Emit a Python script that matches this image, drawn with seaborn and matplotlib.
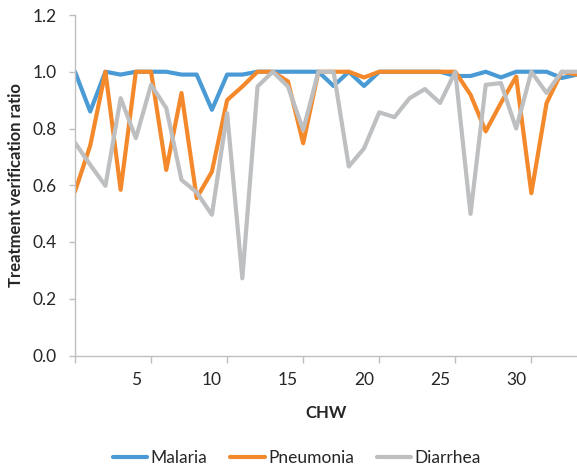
import matplotlib
matplotlib.use("Agg")
import pandas as pd
import matplotlib.pyplot as plt
import seaborn as sns

# --- Data ---
chw = list(range(1, 35))
malaria = [1.00, 0.86, 1.00, 0.99, 1.00, 1.00, 1.00, 0.99, 0.99, 0.866,
           0.99, 0.99, 1.00, 1.00, 1.00, 1.00, 1.00, 0.95, 1.00, 0.95,
           1.00, 1.00, 1.00, 1.00, 1.00, 0.985, 0.985, 1.00, 0.98, 1.00,
           1.00, 1.00, 0.978, 0.99]
pneumonia = [0.578, 0.74, 1.00, 0.584, 1.00, 1.00, 0.654, 0.925, 0.555, 0.648,
             0.90, 0.948, 1.00, 1.00, 0.966, 0.748, 1.00, 1.00, 1.00, 0.98,
             1.00, 1.00, 1.00, 1.00, 1.00, 1.00, 0.919, 0.79, 0.89, 0.983,
             0.572, 0.89, 1.00, 0.99]
diarrhea = [0.75, 0.672, 0.598, 0.907, 0.766, 0.954, 0.872, 0.619, 0.575, 0.496,
            0.854, 0.272, 0.948, 1.00, 0.948, 0.795, 1.00, 1.00, 0.666, 0.73,
            0.857, 0.84, 0.907, 0.939, 0.89, 1.00, 0.499, 0.954, 0.96, 0.80,
            1.00, 0.925, 1.00, 1.00]
series = ["Malaria", "Pneumonia", "Diarrhea"]
colors = {"Malaria": "#4A9BD5", "Pneumonia": "#F4892C", "Diarrhea": "#BDBFC1"}
y_ticks = [0.0, 0.2, 0.4, 0.6, 0.8, 1.0, 1.2]
x_labels = [5, 10, 15, 20, 25, 30]

df = pd.DataFrame({
    "CHW": chw * 3,
    "ratio": malaria + pneumonia + diarrhea,
    "disease": [s for s in series for _ in chw],
})

sns.set_style("white")
plt.rcParams["font.family"] = ["Lato", "DejaVu Sans"]

fig = plt.figure(figsize=(5.77, 4.67), dpi=100)
ax = fig.add_axes([75 / 577, 1 - 355.5 / 467, 1 - 75 / 577, 340.5 / 467])

sns.lineplot(data=df, x="CHW", y="ratio", hue="disease", hue_order=series,
             palette=colors, linewidth=3.0, ax=ax,
             solid_joinstyle="round", solid_capstyle="round")

ax.set_xlim(1, 34)
ax.set_ylim(0, 1.2)
ax.set_yticks(y_ticks)
ax.set_yticklabels([f"{v:.1f}" for v in y_ticks])
ax.set_xticks(x_labels)
ax.set_xticks(list(range(1, 34, 5)), minor=True)

spine_col = "#BFBFBF"
for side in ["top", "right"]:
    ax.spines[side].set_visible(False)
for side in ["left", "bottom"]:
    ax.spines[side].set_color(spine_col)
    ax.spines[side].set_linewidth(1.0)

ax.tick_params(axis="y", left=True, length=4, width=1, color=spine_col,
               pad=9, labelsize=12.5, labelcolor="#262626")
ax.tick_params(axis="x", which="major", bottom=True, length=0, pad=12,
               labelsize=12.5, labelcolor="#262626")
ax.tick_params(axis="x", which="minor", bottom=True, length=5, width=1,
               color=spine_col)

ax.set_xlabel("CHW", fontsize=12, fontweight="bold", labelpad=12, color="#262626")
ax.set_ylabel("Treatment verification ratio", fontsize=12, fontweight="bold",
              labelpad=6, color="#262626")
ax.grid(False)

sns.move_legend(ax, "center", bbox_to_anchor=(0.442, -0.301), ncol=3,
                frameon=False, title=None, fontsize=12.5, handlelength=2.0,
                handletextpad=0.2, columnspacing=1.3)

plt.savefig("out.png", dpi=100)
plt.close()
